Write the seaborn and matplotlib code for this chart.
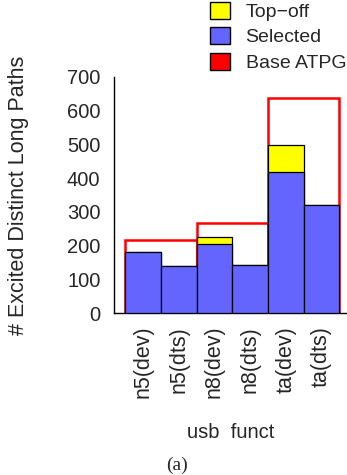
import matplotlib
matplotlib.use('Agg')
import matplotlib.pyplot as plt
from matplotlib.patches import Patch
import seaborn as sns

# datos
categorias = ['n5(dev)', 'n5(dts)', 'n8(dev)', 'n8(dts)', 'ta(dev)', 'ta(dts)']
seleccionados = [182, 139, 204, 143, 418, 319]
top_off = [0, 0, 22, 0, 79, 0]
grupos_base = [0.5, 2.5, 4.5]          # centro de cada par (dev, dts)
base_atpg = [217, 266, 638]

color_sel = '#6464ff'
color_top = '#ffff00'
color_base = '#ff0000'

sns.set_style('white')
plt.rcParams['font.family'] = ['Liberation Sans', 'DejaVu Sans']

fig = plt.figure(figsize=(3.47, 4.75), dpi=100)
ax = fig.add_axes([114.3 / 347, 1 - 313.3 / 475, 1 - 114.3 / 347, (313.3 - 76.7) / 475])

# Base ATPG: contorno rojo sobre cada par
ax.bar(grupos_base, base_atpg, width=2, fill=False, edgecolor=color_base,
       linewidth=1.8, zorder=1)

total = [s + t for s, t in zip(seleccionados, top_off)]
sns.barplot(x=categorias, y=total, color=color_top, saturation=1, width=1,
            edgecolor='black', linewidth=0.9, ax=ax, zorder=2)
sns.barplot(x=categorias, y=seleccionados, color=color_sel, saturation=1, width=1,
            edgecolor='black', linewidth=0.9, ax=ax, zorder=3)

ax.set_xlim(-0.81, 5.72)
ax.set_ylim(0, 700)
ax.set_yticks(range(0, 701, 100))
ax.tick_params(axis='y', direction='in', length=8.5, width=1, pad=10,
               labelsize=14.5, color='#333333')
ax.tick_params(axis='x', length=0, pad=9, labelsize=15.5, rotation=90)

for lado in ['top', 'right']:
    ax.spines[lado].set_visible(False)
for lado in ['left', 'bottom']:
    ax.spines[lado].set_color('black')
    ax.spines[lado].set_linewidth(1.0)

ax.set_xlabel('usb  funct', fontsize=14.5, labelpad=18)
ax.set_ylabel('# Excited Distinct Long Paths', fontsize=15.5, labelpad=27)

manijas = [Patch(facecolor=color_top, edgecolor='black', label='Top\u2212off'),
           Patch(facecolor=color_sel, edgecolor='black', label='Selected'),
           Patch(facecolor=color_base, edgecolor='black', label='Base ATPG')]
fig.legend(handles=manijas, loc='upper left', bbox_to_anchor=(208 / 347, 1.0),
           frameon=False, fontsize=14, handlelength=1.03, handleheight=0.95,
           handletextpad=0.8, labelspacing=0.33, borderpad=0.1, borderaxespad=0)

fig.text(177 / 347, 1 - 465 / 475, '(a)', family='Liberation Serif', fontsize=14,
         ha='center', va='center')

fig.savefig('out.png', dpi=100)
